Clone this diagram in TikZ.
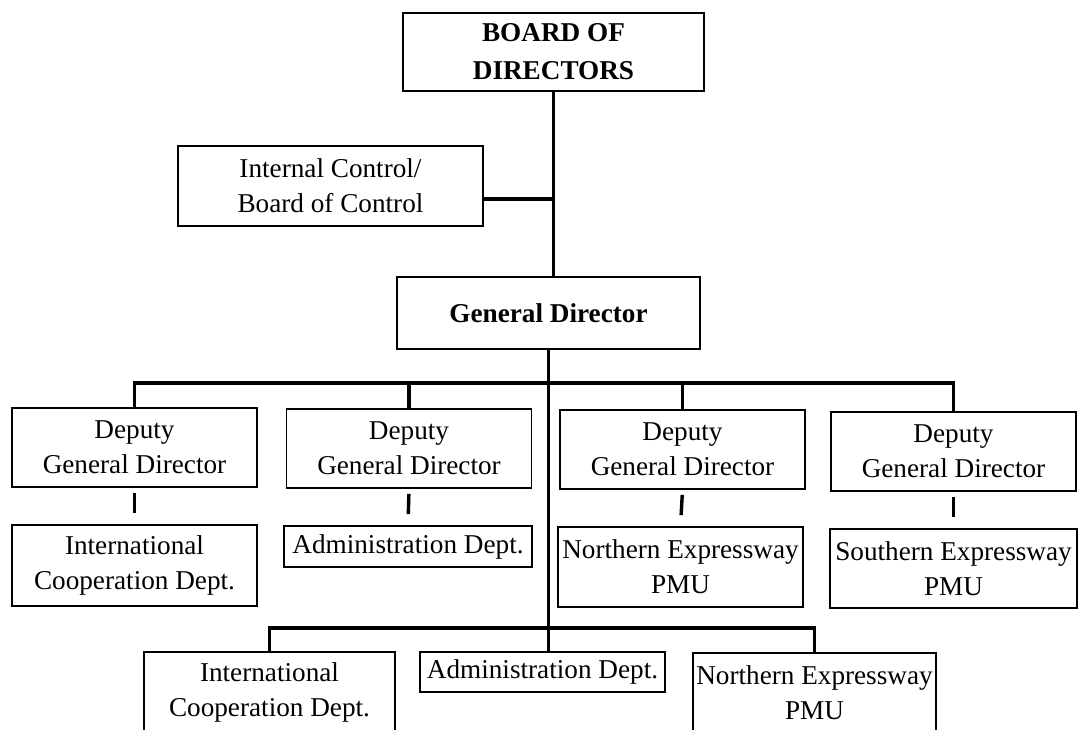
\documentclass[tikz,border=0pt]{standalone}
\usepackage{fontspec}
\setmainfont{Liberation Serif}
\usetikzlibrary{positioning}
\tikzset{
  unit/.style={draw=black, line width=0.9pt, align=center, inner sep=0pt,
    font=\fontsize{13.6}{17.5}\selectfont},
  head/.style={unit, font=\bfseries\fontsize{13.6}{19}\selectfont},
  link/.style={draw=black, line width=1.7pt},
}
\begin{document}
\begin{tikzpicture}[x=0.5pt, y=-0.5pt]
  \clip (0,0) rectangle (1080,729);
  \fill[white] (0,0) rectangle (1080,729);

  % top of the chart
  \node[head, minimum width=150.5pt, minimum height=39pt] (bod) at (553.5,52) {BOARD OF\\DIRECTORS};
  \node[unit, minimum width=152.5pt, minimum height=40pt] (ic) at (330.5,186) {Internal Control/\\Board of Control};
  \node[head, minimum width=151.5pt, minimum height=36pt] (gd) at (548.5,313) {General Director};
  \coordinate (jic) at (553.5,199);
  \draw[link] (bod.south) -- (bod.south |- gd.north);
  \draw[link] (ic.east |- jic) -- (jic);

  % deputies
  \foreach \i/\cx/\cy in {1/134.5/447.5, 2/409/448.5, 3/682.5/449.5, 4/953.5/451.5}{
    \node[unit, minimum width=122.5pt, minimum height=39.5pt] (d\i) at (\cx,\cy) {Deputy\\General Director};
  }

  % departments under each deputy
  \node[unit, minimum width=122.5pt, minimum height=40.5pt] (s1) at (134.5,565.5) {International\\Cooperation Dept.};
  \node[unit, minimum width=124pt, minimum height=20.5pt] (s2) at (408,546.5) {Administration Dept.};
  \node[unit, minimum width=122.5pt, minimum height=40pt] (s3) at (680.5,567) {Northern Expressway\\PMU};
  \node[unit, minimum width=123.5pt, minimum height=39.5pt] (s4) at (953.5,568.5) {Southern Expressway\\PMU};
  \foreach \i in {1,...,4}{
    \draw[link, shorten <=2.5pt, shorten >=5.5pt] (d\i.south) -- (s\i.north);
  }

  % bottom row
  \node[unit, minimum width=125.5pt, minimum height=40.5pt] (b1) at (269.5,692.5) {International\\Cooperation Dept.};
  \node[unit, minimum width=122.5pt, minimum height=20pt] (b2) at (542.5,672) {Administration Dept.};
  \node[unit, minimum width=121.5pt, minimum height=40pt] (b3) at (814.5,693) {Northern Expressway\\PMU};

  % buses
  \coordinate (bus) at (548.5,383);
  \coordinate (lbus) at (548.5,628);
  \draw[link] (gd.south) -- (gd.south |- b2.north);
  \draw[link] (d1.north) |- (bus) -| (d4.north);
  \foreach \i in {2,3}{\draw[link] (d\i.north) -- (d\i.north |- bus);}
  \draw[link] (b1.north) |- (lbus) -| (b3.north);
\end{tikzpicture}
\end{document}
